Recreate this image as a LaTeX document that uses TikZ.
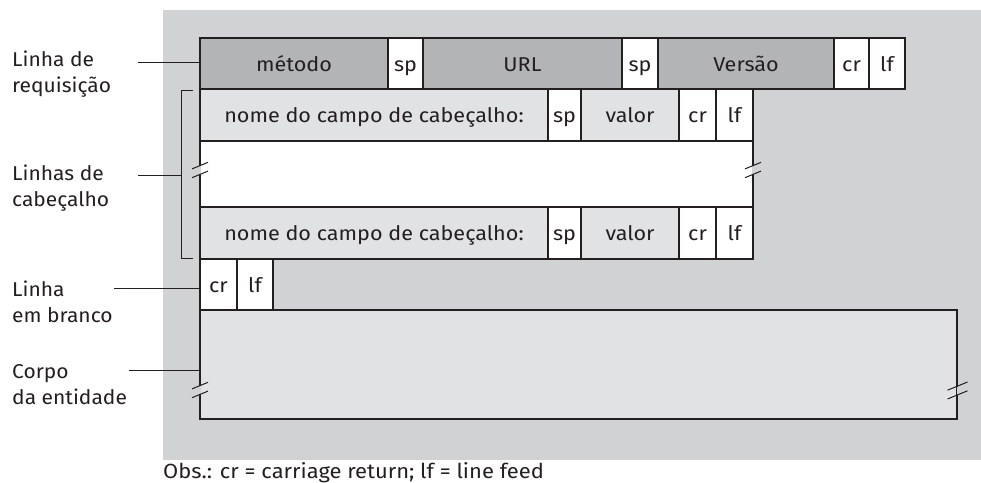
\documentclass[tikz,border=0pt]{standalone}
\usepackage{fontspec}
\setmainfont{Fira Sans}
\newfontfamily\cellfont[FakeStretch=1.08]{Fira Sans}
\newfontfamily\lblfont[FakeStretch=1.05]{Fira Sans}
\newfontfamily\notefont[FakeStretch=1.07]{Fira Sans}
\definecolor{bgc}{HTML}{D1D2D4}
\definecolor{dkc}{HTML}{B3B4B6}
\definecolor{ltc}{HTML}{E1E2E4}
\definecolor{lnc}{HTML}{231F20}
\newcommand\mkcell[7]{%
  \node[cell, fill=#6, minimum width={(#3-#2)*1pt}, minimum height={(#5-#4)*1pt}]
    (#1) at ({(#2+#3)/2},{(#4+#5)/2}) {#7};}
\newcommand\brkmark[3]{%
  \fill[bgc] ({#1-0.9},{#2-4}) rectangle ({#1+0.9},{#2+4});
  \draw[brk] ({#1-#3},{#2-4.4+#3*0.41}) -- ({#1+#3},{#2-4.4-#3*0.41});
  \draw[brk] ({#1-#3},{#2+4.4+#3*0.41}) -- ({#1+#3},{#2+4.4-#3*0.41});}
\begin{document}
\begin{tikzpicture}[x=1pt,y=-1pt,
  cell/.style={draw=lnc, line width=1.2pt, inner sep=0pt, outer sep=0pt,
    font=\cellfont\fontsize{20}{22}\selectfont, text=lnc, text height=15pt, text depth=0pt},
  brk/.style={draw=lnc, line width=1pt},
  lbl/.style={anchor=west, align=left, inner sep=0pt, text=lnc,
    font=\lblfont\fontsize{20}{26}\selectfont},
  conn/.style={draw=lnc, line width=1pt}]
\useasboundingbox (0,0) rectangle (981,482);
\fill[bgc] (163,10) rectangle (981,460);
% request line
\mkcell{met}{200}{388}{38}{89}{dkc}{método}
\mkcell{sp1}{388}{423}{38}{89}{white}{sp}
\mkcell{url}{423}{622}{38}{89}{dkc}{URL}
\mkcell{sp2}{622}{658}{38}{89}{white}{sp}
\mkcell{ver}{658}{834}{38}{89}{dkc}{Versão}
\mkcell{cr1}{834}{869}{38}{89}{white}{cr}
\mkcell{lf1}{869}{905}{38}{89}{white}{lf}
% header line 1
\mkcell{nom1}{200}{548}{89}{141}{ltc}{nome do campo de cabeçalho:}
\mkcell{sp3}{548}{581}{89}{141}{white}{sp}
\mkcell{val1}{581}{679}{89}{141}{ltc}{valor}
\mkcell{cr2}{679}{716}{89}{141}{white}{cr}
\mkcell{lf2}{716}{753}{89}{141}{white}{lf}
% gap block
\mkcell{gap}{200}{753}{141}{207}{white}{}
% header line 2
\mkcell{nom2}{200}{548}{207}{259}{ltc}{nome do campo de cabeçalho:}
\mkcell{sp4}{548}{581}{207}{259}{white}{sp}
\mkcell{val2}{581}{679}{207}{259}{ltc}{valor}
\mkcell{cr3}{679}{716}{207}{259}{white}{cr}
\mkcell{lf3}{716}{753}{207}{259}{white}{lf}
% blank line
\mkcell{cr4}{200}{237}{259}{310}{white}{cr}
\mkcell{lf4}{237}{273}{259}{310}{white}{lf}
% body
\mkcell{body}{200}{957}{310}{419}{ltc}{}
% break marks
\brkmark{200}{170}{8}
\brkmark{753}{170}{8}
\brkmark{200}{390}{8}
\brkmark{957.5}{390.5}{10}
% bracket for header lines
\coordinate (bt) at (193,90);
\coordinate (bb) at (193,258);
\draw[conn] (bt) -- (181,90) -- (181,258) -- (bb);
% labels
\node[lbl] (lreq) at (12,74) {Linha de\\requisição};
\node[lbl] (lhdr) at (12,188) {Linhas de\\cabeçalho};
\node[lbl] (lblk) at (12,302) {Linha\\em branco};
\node[lbl] (lbod) at (12,385) {Corpo\\da entidade};
\coordinate (c1) at (138,62);
\coordinate (c2) at (138,175);
\coordinate (c2e) at (181,175);
\coordinate (c3) at (114,288);
\coordinate (c4) at (129,370);
\draw[conn] (c1) -- (c1 -| met.west);
\draw[conn] (c2) -- (c2e);
\draw[conn] (c3) -- (c3 -| cr4.west);
\draw[conn] (c4) -- (c4 -| body.west);
% note
\node[anchor=base west, inner sep=0pt, text=lnc, font=\notefont\fontsize{20.5}{22}\selectfont]
  (note) at (163,478) {Obs.: cr = carriage return; lf = line feed};
\end{tikzpicture}
\end{document}
